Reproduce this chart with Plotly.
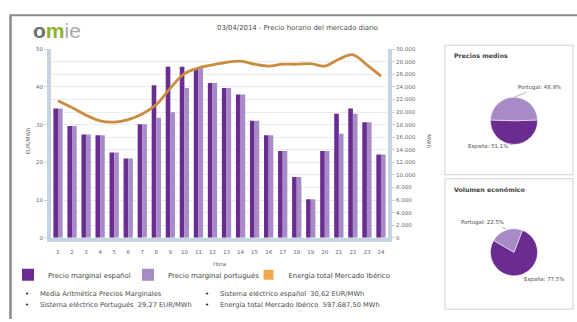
import plotly.graph_objects as go

# ---------------- data ----------------
hours = [str(h) for h in range(1, 25)]
precio_es = [34.3, 29.6, 27.4, 27.2, 22.6, 21.0, 30.1, 40.4, 45.3, 45.3, 45.0, 41.0,
             39.7, 38.0, 31.0, 27.2, 23.0, 16.1, 10.2, 23.0, 32.9, 34.3, 30.6, 22.1]
precio_pt = [34.3, 29.6, 27.4, 27.2, 22.6, 21.0, 30.1, 31.8, 33.3, 39.7, 45.0, 41.0,
             39.7, 38.0, 31.0, 27.2, 23.0, 16.1, 10.2, 23.0, 27.6, 32.9, 30.6, 22.1]
energia = [21800, 20700, 19500, 18600, 18400, 18800, 19700, 21200, 23800, 26100, 27000, 27500,
           27900, 28100, 27600, 27300, 27600, 27600, 27700, 27300, 28400, 29100, 27500, 25700]

pie_labels = ["España", "Portugal"]
precios_medios = [51.1, 48.9]
volumen_economico = [77.5, 22.5]

title_text = "03/04/2014 - Precio horario del mercado diario"
series_names = ["Precio marginal español", "Precio marginal portugués", "Energía total Mercado Ibérico"]
summary_lines = [
    "Media Aritmética Precios Marginales",
    "Sistema eléctrico Portugués  29,27 EUR/MWh",
    "Sistema eléctrico español  30,62 EUR/MWh",
    "Energía total Mercado Ibérico  597.687,50 MWh",
]

# ---------------- style ----------------
W, H = 577, 322
C_ES = "#6b2c91"
C_PT = "#a68bc6"
C_LINE = "#c98b3f"
C_LEG_LINE = "#f4a84c"
AXIS_BLUE = "#c6d4e2"
FONT = "DejaVu Sans"
TXT = "#4a4a4a"


def px(x):
    return x / W


def py(y):
    return 1 - y / H


fig = go.Figure()
fig.add_trace(go.Bar(x=hours, y=precio_es, name=series_names[0], marker_color=C_ES,
                     marker_line_width=0, legend="legend"))
fig.add_trace(go.Bar(x=hours, y=precio_pt, name=series_names[1], marker_color=C_PT,
                     marker_line_width=0, legend="legend2"))
fig.add_trace(go.Scatter(x=hours, y=energia, yaxis="y2", mode="lines", showlegend=False,
                         line=dict(color=C_LINE, width=2.8, shape="spline")))
fig.add_trace(go.Scatter(x=[None], y=[None], mode="markers", name=series_names[2],
                         legend="legend3",
                         marker=dict(symbol="square", size=10, color=C_LEG_LINE)))

# pies
pie_r = 24
for vals, cy, rot in [(precios_medios, 120, 88), (volumen_economico, 254, 21)]:
    fig.add_trace(go.Pie(labels=pie_labels, values=vals, sort=False, direction="clockwise",
                         rotation=rot, textinfo="none", showlegend=False,
                         marker=dict(colors=[C_ES, C_PT], line=dict(color="white", width=0.5)),
                         domain=dict(x=[px(514 - pie_r), px(514 + pie_r)],
                                     y=[py(cy + pie_r), py(cy - pie_r)])))

tickfont = dict(family=FONT, size=5.5, color="#666")
legfont = dict(family=FONT, size=6.9, color="#444")


def leg(x0):
    return dict(orientation="h", x=px(x0), y=py(277), xanchor="left", yanchor="middle",
                itemwidth=30, font=legfont, bgcolor="rgba(0,0,0,0)")


fig.update_layout(
    width=W, height=H, margin=dict(l=0, r=0, t=0, b=0),
    paper_bgcolor="white", plot_bgcolor="white",
    separators=",.",
    barmode="group", bargap=0.34, bargroupgap=0.0,
    font=dict(family=FONT, color=TXT),
    xaxis=dict(domain=[px(51), px(388)], type="category", showline=True, linecolor=AXIS_BLUE,
               linewidth=4, ticks="", tickfont=tickfont, ticklabelstandoff=6, showgrid=False,
               title=dict(text="Hora", font=dict(size=5.5, color="#666"), standoff=9)),
    yaxis=dict(domain=[py(239.3), py(47)], range=[0, 50], dtick=10, showgrid=False,
               showline=True, linecolor=AXIS_BLUE, linewidth=4, ticks="outside", ticklen=3,
               tickcolor=AXIS_BLUE, tickfont=tickfont, zeroline=False),
    yaxis2=dict(overlaying="y", side="right", range=[0, 30000], dtick=2000, tickformat=",d",
                showline=True, linecolor=AXIS_BLUE, linewidth=4, ticks="outside", ticklen=3,
                tickcolor=AXIS_BLUE, tickfont=tickfont, showgrid=True, gridcolor="#ececec",
                gridwidth=1, zeroline=False),
    legend=leg(8), legend2=leg(128), legend3=leg(248.5),
)

shapes = [
    dict(type="line", xref="paper", yref="paper", x0=px(10), x1=1, y0=py(12.5), y1=py(12.5),
         line=dict(color="#8a8a8a", width=2)),
    dict(type="line", xref="paper", yref="paper", x0=px(10.5), x1=px(10.5), y0=py(12), y1=0,
         line=dict(color="#8a8a8a", width=2.5)),
    dict(type="rect", xref="paper", yref="paper", x0=px(445), x1=px(573), y0=py(175), y1=py(43),
         line=dict(color="#d0d0d0", width=1)),
    dict(type="rect", xref="paper", yref="paper", x0=px(445), x1=px(573), y0=py(312), y1=py(179),
         line=dict(color="#d0d0d0", width=1)),
]
fig.update_layout(shapes=shapes)


def note(x, y, text, size, color=TXT, xanchor="left", angle=0, family=FONT):
    return dict(x=px(x), y=py(y), xref="paper", yref="paper", showarrow=False,
                xanchor=xanchor, yanchor="middle", textangle=angle, text=text,
                font=dict(family=family, size=size, color=color))


ann = []
# logo
ann.append(note(31, 28, "<b><span style='color:#6f6f6f'>o</span><span style='color:#8db32e'>m</span></b>"
                        "<span style='color:#a9a9a9'>ie</span>", 21, family="Liberation Sans"))
# title
ann.append(note(297, 25, title_text, 6.9, xanchor="center"))
# axis titles
ann.append(note(28, 141, "EUR/MWh", 5.5, "#666", "center", -90))
ann.append(note(429, 141, "MWh", 5.5, "#666", "center", 90))
# summary bullets
for (bx, by), line in zip([(27, 297), (27, 308), (207, 297), (207, 308)], summary_lines):
    ann.append(note(bx, by, "•", 7, "#222", "center"))
    ann.append(note(bx + 11, by, line, 6.7))
# pie boxes titles
ann.append(note(452, 54, "<b>Precios medios</b>", 6.3, "#444"))
ann.append(note(452, 190, "<b>Volumen económico</b>", 6.3, "#444"))
# pie labels
pie_lab = [
    (precios_medios[1], pie_labels[1], (514, 96), (25, -10)),
    (precios_medios[0], pie_labels[0], (513, 144), (-25, 2)),
    (volumen_economico[1], pie_labels[1], (506, 230), (-24, -6)),
    (volumen_economico[0], pie_labels[0], (522, 278), (22, 4)),
]
for v, lab, (tx, ty), (ax, ay) in pie_lab:
    ann.append(dict(x=px(tx), y=py(ty), xref="paper", yref="paper", showarrow=True,
                    arrowhead=0, arrowwidth=0.7, arrowcolor="#999", ax=ax, ay=ay,
                    text=f"{lab}: {v}%", font=dict(family=FONT, size=5.4, color=TXT)))
fig.update_layout(annotations=ann)

fig.write_html("out.html")
